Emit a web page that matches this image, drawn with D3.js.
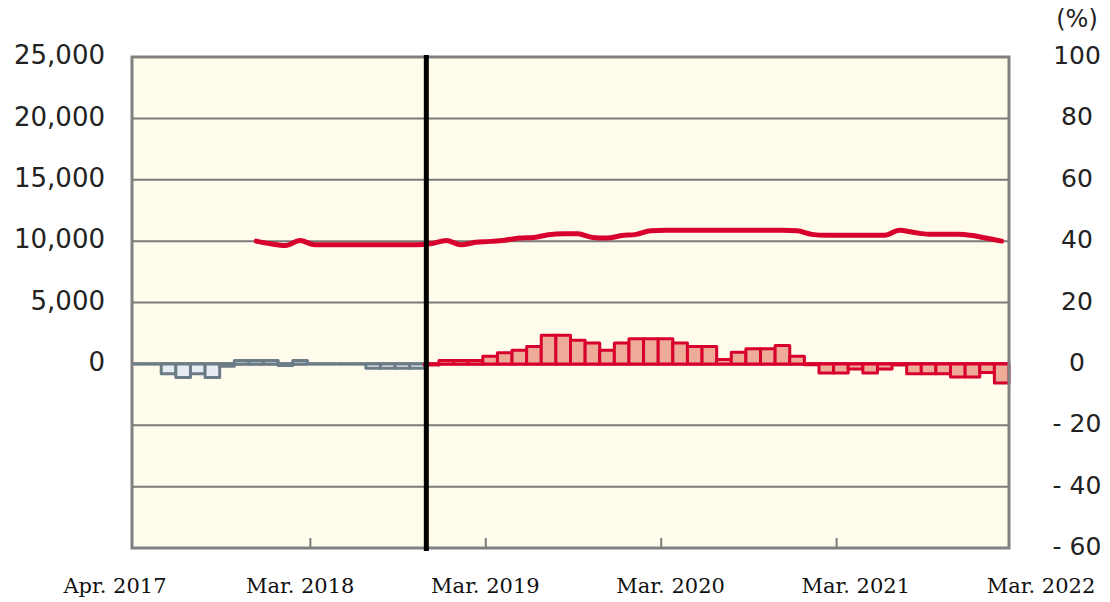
<!DOCTYPE html>
<html lang="en">
<head>
  <meta charset="UTF-8">
  <title>Monthly chart Apr. 2017 - Mar. 2022</title>
  <style>
    body { margin: 0; background: #fff; }
    svg { display: block; }
    .ylab { font-family: "DejaVu Sans", Verdana, sans-serif; fill: #222; }
    .xlab { font-family: "DejaVu Serif", serif; font-size: 21px; fill: #111; }
  </style>
  <script src="https://d3js.org/d3.v7.min.js"></script>
</head>
<body>
  <div id="chart"></div>
  <script>
    // months Apr 2017 .. Mar 2022
    var months = d3.timeMonth.range(new Date(2017, 3, 1), new Date(2022, 3, 1));

    // year-on-year change (%), right axis; first 20 months drawn grey
    var splitIndex = 20;
    var changeValues = [
      0, 0, -3.2, -4.4, -3.2, -4.4, -0.8, 1.1, 1.1, 1.1,
      -0.5, 1.1, 0, 0, 0, 0, -1.4, -1.4, -1.4, -1.4,
      -0.4, 1.1, 1.1, 1.1, 2.5, 3.6, 4.4, 5.7, 9.3, 9.3,
      7.7, 6.8, 4.4, 6.8, 8.2, 8.2, 8.2, 6.8, 5.7, 5.7,
      1.4, 3.8, 4.9, 4.9, 6.0, 2.5, -0.3, -3.0, -3.0, -1.7,
      -3.0, -1.7, -0.4, -3.2, -3.2, -3.2, -4.3, -4.3, -2.8, -6.2
    ];

    // level, left axis (null = no data)
    var levelValues = [
      null, null, null, null, null, null, null, null, 10000, 9780,
      9650, 10060, 9700, 9700, 9700, 9700, 9700, 9700, 9700, 9700,
      9800, 10050, 9700, 9900, 9980, 10080, 10250, 10300, 10520, 10600,
      10600, 10300, 10250, 10450, 10550, 10850, 10880, 10880, 10880, 10880,
      10880, 10880, 10880, 10880, 10880, 10850, 10550, 10470, 10470, 10470,
      10470, 10470, 10880, 10700, 10560, 10560, 10560, 10450, 10230, 10000
    ];

    var leftTicks = [0, 5000, 10000, 15000, 20000, 25000];
    var rightTicks = [100, 80, 60, 40, 20, 0, -20, -40, -60];
    var xLabels = ["Apr. 2017", "Mar. 2018", "Mar. 2019", "Mar. 2020", "Mar. 2021", "Mar. 2022"];
    var yearTicks = [12, 24, 36, 48];

    var W = 1110, H = 602;
    var plotL = 132, plotR = 1009, plotT = 57, plotB = 548;

    var svg = d3.select("#chart").append("svg")
      .attr("width", W)
      .attr("height", H);

    var x = d3.scaleBand().domain(d3.range(months.length)).range([plotL, plotR]).paddingInner(0).paddingOuter(0);
    var yR = d3.scaleLinear().domain([-60, 100]).range([plotB, plotT]);
    var yL = d3.scaleLinear().domain([-15000, 25000]).range([plotB, plotT]);
    var bw = x.bandwidth();

    function barStroke(i) { return i < splitIndex ? "#6b7c87" : "#d8002c"; }
    function barFill(i) { return i < splitIndex ? "#e6ecf2" : "#eeab98"; }

    // plot background
    svg.append("rect")
      .attr("x", plotL).attr("y", plotT)
      .attr("width", plotR - plotL).attr("height", plotB - plotT)
      .attr("fill", "#fffcec");

    // grid lines
    svg.append("g").selectAll("line")
      .data(rightTicks.filter(function(d) { return d < 100 && d > -60; }))
      .enter().append("line")
      .attr("x1", plotL).attr("x2", plotR)
      .attr("y1", function(d) { return yR(d); })
      .attr("y2", function(d) { return yR(d); })
      .attr("stroke", "#7a7a7a")
      .attr("stroke-width", 2);

    // year ticks along bottom
    svg.append("g").selectAll("line")
      .data(yearTicks)
      .enter().append("line")
      .attr("x1", function(d) { return x(d) + 3; })
      .attr("x2", function(d) { return x(d) + 3; })
      .attr("y1", plotB - 10).attr("y2", plotB)
      .attr("stroke", "#7a7a7a")
      .attr("stroke-width", 2);

    // zero base under each bar, in the bar's colour
    svg.append("g").selectAll("line")
      .data(changeValues)
      .enter().append("line")
      .attr("x1", function(d, i) { return x(i); })
      .attr("x2", function(d, i) { return x(i) + bw; })
      .attr("y1", yR(0)).attr("y2", yR(0))
      .attr("stroke", function(d, i) { return barStroke(i); })
      .attr("stroke-width", 3.5);

    // bars
    svg.append("g").selectAll("rect")
      .data(changeValues)
      .enter().append("rect")
      .attr("x", function(d, i) { return x(i); })
      .attr("width", bw)
      .attr("y", function(d) { return yR(Math.max(0, d)); })
      .attr("height", function(d) { return Math.abs(yR(d) - yR(0)); })
      .attr("fill", function(d, i) { return barFill(i); })
      .attr("stroke", function(d, i) { return barStroke(i); })
      .attr("stroke-width", 3)
      .attr("stroke-linejoin", "round");

    // level line
    var line = d3.line()
      .defined(function(d) { return d != null; })
      .x(function(d, i) { return x(i) + bw / 2; })
      .y(function(d) { return yL(d); })
      .curve(d3.curveMonotoneX);

    svg.append("path")
      .datum(levelValues)
      .attr("d", line)
      .attr("fill", "none")
      .attr("stroke", "#d8002c")
      .attr("stroke-width", 5)
      .attr("stroke-linecap", "round")
      .attr("stroke-linejoin", "round");

    // plot border
    svg.append("rect")
      .attr("x", plotL).attr("y", plotT)
      .attr("width", plotR - plotL).attr("height", plotB - plotT)
      .attr("fill", "none")
      .attr("stroke", "#808080")
      .attr("stroke-width", 3);

    // split marker
    svg.append("line")
      .attr("x1", x(splitIndex) + 2).attr("x2", x(splitIndex) + 2)
      .attr("y1", plotT - 2).attr("y2", plotB + 3)
      .attr("stroke", "#000")
      .attr("stroke-width", 5);

    // left axis labels
    svg.append("g").selectAll("text")
      .data(leftTicks)
      .enter().append("text")
      .attr("class", "ylab")
      .attr("x", 105)
      .attr("y", function(d) { return yL(d) - 2; })
      .attr("dy", "0.36em")
      .attr("text-anchor", "end")
      .style("font-size", "26px")
      .text(function(d) { return d3.format(",")(d); });

    // right axis labels
    svg.append("g").selectAll("text")
      .data(rightTicks)
      .enter().append("text")
      .attr("class", "ylab")
      .attr("x", 1077)
      .attr("y", function(d) { return yR(d) - 2; })
      .attr("dy", "0.36em")
      .attr("text-anchor", "middle")
      .style("font-size", "25px")
      .text(function(d) { return d < 0 ? "- " + Math.abs(d) : d; });

    svg.append("text")
      .attr("class", "ylab")
      .attr("x", 1077).attr("y", 27)
      .attr("text-anchor", "middle")
      .style("font-size", "24px")
      .text("(%)");

    // x labels
    var xl = d3.scalePoint().domain(xLabels).range([115, 1041]);
    svg.append("g").selectAll("text")
      .data(xLabels)
      .enter().append("text")
      .attr("class", "xlab")
      .attr("x", function(d) { return xl(d); })
      .attr("y", 593)
      .attr("text-anchor", "middle")
      .text(function(d) { return d; });
  </script>
</body>
</html>
